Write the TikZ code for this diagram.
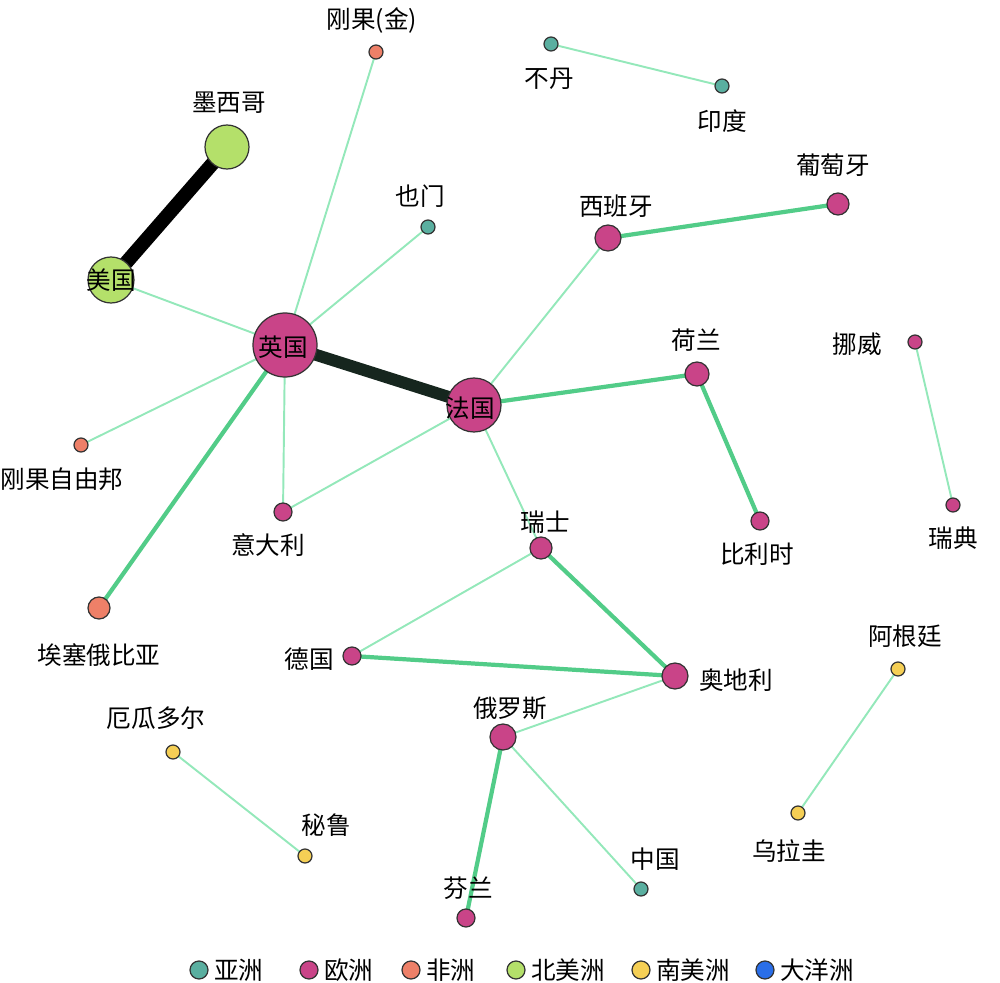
\documentclass[tikz,border=0pt]{standalone}
\usepackage{fontspec}
\setmainfont{Noto Sans CJK SC}
\usetikzlibrary{backgrounds}
\definecolor{asia}{HTML}{5AAFA0}
\definecolor{europe}{HTML}{C94488}
\definecolor{africa}{HTML}{EE8068}
\definecolor{namer}{HTML}{B4E06A}
\definecolor{samer}{HTML}{F5CF55}
\definecolor{oceania}{HTML}{2A6EE8}
\definecolor{thinc}{HTML}{94E8BA}
\definecolor{medc}{HTML}{52CC88}
\definecolor{darkc}{HTML}{16261E}
\begin{document}
\begin{tikzpicture}[x=0.02cm,y=-0.02cm,
  dot/.style={circle,draw=black!80,line width=0.7pt,inner sep=0pt,minimum size=#1*0.02cm},
  lbl/.style={inner sep=0pt,font=\fontsize{14pt}{16pt}\selectfont},
  thinE/.style={draw=thinc,line width=1.1pt},
  medE/.style={draw=medc,line width=2.4pt},
  heavyE/.style={draw=black,line width=8pt},
  darkE/.style={draw=darkc,line width=6.8pt}]
\useasboundingbox (0,0) rectangle (1000,983);
% nodes
\node[dot=14,fill=africa] (gj) at (376,52) {};
\node[dot=14,fill=asia] (bd) at (551,44) {};
\node[dot=14,fill=asia] (yd) at (722,86) {};
\node[dot=44,fill=namer] (mx) at (227,147) {};
\node[dot=22,fill=europe] (pt) at (838,204) {};
\node[dot=14,fill=asia] (ym) at (428,227) {};
\node[dot=26,fill=europe] (es) at (608,238) {};
\node[dot=46,fill=namer] (us) at (111,280) {};
\node[dot=64,fill=europe] (uk) at (285,345) {};
\node[dot=14,fill=europe] (no) at (915,342) {};
\node[dot=24,fill=europe] (nl) at (697,374) {};
\node[dot=54,fill=europe] (fr) at (474,405) {};
\node[dot=14,fill=africa] (cf) at (81,445) {};
\node[dot=18,fill=europe] (it) at (283,512) {};
\node[dot=14,fill=europe] (se) at (953,505) {};
\node[dot=18,fill=europe] (be) at (760,521) {};
\node[dot=22,fill=europe] (ch) at (541,548) {};
\node[dot=22,fill=africa] (et) at (99,608) {};
\node[dot=18,fill=europe] (de) at (352,656) {};
\node[dot=14,fill=samer] (ar) at (898,669) {};
\node[dot=26,fill=europe] (at) at (675,676) {};
\node[dot=26,fill=europe] (ru) at (503,737) {};
\node[dot=14,fill=samer] (ec) at (173,752) {};
\node[dot=14,fill=samer] (uy) at (798,813) {};
\node[dot=14,fill=samer] (pe) at (305,856) {};
\node[dot=14,fill=asia] (cn) at (641,889) {};
\node[dot=18,fill=europe] (fi) at (466,918) {};
% edges
\begin{pgfonlayer}{background}
\draw[heavyE] (mx.center) -- (us.center);
\draw[darkE] (uk.center) -- (fr.center);
\draw[thinE] (us.center) -- (uk.center);
\draw[thinE] (uk.center) -- (gj.center);
\draw[thinE] (uk.center) -- (ym.center);
\draw[thinE] (uk.center) -- (cf.center);
\draw[thinE] (uk.center) -- (it.center);
\draw[medE] (uk.center) -- (et.center);
\draw[thinE] (fr.center) -- (it.center);
\draw[thinE] (fr.center) -- (es.center);
\draw[medE] (fr.center) -- (nl.center);
\draw[thinE] (fr.center) -- (ch.center);
\draw[medE] (es.center) -- (pt.center);
\draw[medE] (nl.center) -- (be.center);
\draw[thinE] (no.center) -- (se.center);
\draw[thinE] (bd.center) -- (yd.center);
\draw[thinE] (ch.center) -- (de.center);
\draw[medE] (ch.center) -- (at.center);
\draw[medE] (de.center) -- (at.center);
\draw[thinE] (at.center) -- (ru.center);
\draw[medE] (ru.center) -- (fi.center);
\draw[thinE] (ru.center) -- (cn.center);
\draw[thinE] (ec.center) -- (pe.center);
\draw[thinE] (ar.center) -- (uy.center);
\end{pgfonlayer}
% labels
\node[lbl] (l-gj) at (372,20) {刚果(金)};
\node[lbl] (l-bd) at (549,79) {不丹};
\node[lbl] (l-yd) at (722,121) {印度};
\node[lbl] (l-mx) at (229,103) {墨西哥};
\node[lbl] (l-pt) at (833,165) {葡萄牙};
\node[lbl] (l-ym) at (420,196) {也门};
\node[lbl] (l-es) at (616,206) {西班牙};
\node[lbl] (l-us) at (111,280) {美国};
\node[lbl] (l-uk) at (283,347) {英国};
\node[lbl] (l-no) at (857,344) {挪威};
\node[lbl] (l-nl) at (696,340) {荷兰};
\node[lbl] (l-fr) at (470,408) {法国};
\node[lbl] (l-cf) at (62,479) {刚果自由邦};
\node[lbl] (l-it) at (268,545) {意大利};
\node[lbl] (l-se) at (953,538) {瑞典};
\node[lbl] (l-be) at (757,554) {比利时};
\node[lbl] (l-ch) at (545,522) {瑞士};
\node[lbl] (l-et) at (99,655) {埃塞俄比亚};
\node[lbl] (l-de) at (309,659) {德国};
\node[lbl] (l-ar) at (905,636) {阿根廷};
\node[lbl] (l-at) at (736,680) {奥地利};
\node[lbl] (l-ru) at (510,708) {俄罗斯};
\node[lbl] (l-ec) at (156,718) {厄瓜多尔};
\node[lbl] (l-uy) at (789,851) {乌拉圭};
\node[lbl] (l-pe) at (326,825) {秘鲁};
\node[lbl] (l-cn) at (655,859) {中国};
\node[lbl] (l-fi) at (468,888) {芬兰};
% legend
\node[dot=18,fill=asia] (k1) at (199,970) {};
\node[lbl,anchor=west] (t1) at (214,970) {亚洲};
\node[dot=18,fill=europe] (k2) at (309,970) {};
\node[lbl,anchor=west] (t2) at (324,970) {欧洲};
\node[dot=18,fill=africa] (k3) at (411,970) {};
\node[lbl,anchor=west] (t3) at (426,970) {非洲};
\node[dot=18,fill=namer] (k4) at (516,970) {};
\node[lbl,anchor=west] (t4) at (531,970) {北美洲};
\node[dot=18,fill=samer] (k5) at (641,970) {};
\node[lbl,anchor=west] (t5) at (656,970) {南美洲};
\node[dot=18,fill=oceania] (k6) at (765,970) {};
\node[lbl,anchor=west] (t6) at (780,970) {大洋洲};
\end{tikzpicture}
\end{document}
